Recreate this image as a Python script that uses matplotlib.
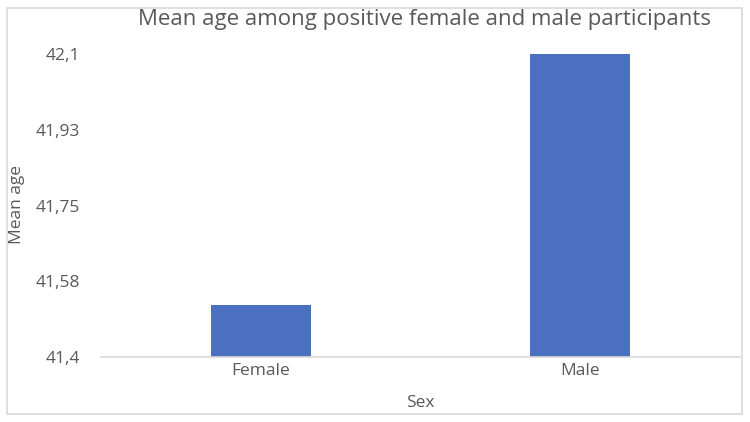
import numpy as np
import matplotlib.pyplot as plt
from matplotlib.patches import Rectangle

# data
categories = ['Female', 'Male']
mean_age = [41.52, 42.1]
tick_values = [41.4, 41.575, 41.75, 41.925, 42.1]
tick_labels = ['41,4', '41,58', '41,75', '41,93', '42,1']

plt.rcParams['font.family'] = ['Open Sans', 'DejaVu Sans']
text_col = '#595959'

fig = plt.figure(figsize=(7.5, 4.22), dpi=100)
ax = fig.add_axes([101 / 750, 1 - 357 / 422, (740 - 101) / 750, (357 - 54) / 422])

x = np.arange(len(categories))
ax.bar(x, mean_age, width=0.313, color='#4a70bf', bottom=0)
ax.set_xlim(-0.5, 1.5)
ax.set_ylim(41.4, 42.1)
ax.set_yticks(tick_values)
ax.set_yticklabels(tick_labels)
ax.set_xticks(x)
ax.set_xticklabels(categories)

for s in ['top', 'right', 'left']:
    ax.spines[s].set_visible(False)
ax.spines['bottom'].set_color('#d9d9d9')
ax.spines['bottom'].set_linewidth(1.2)
ax.tick_params(axis='both', length=0, labelsize=12.5, colors=text_col)
ax.tick_params(axis='y', pad=15)
ax.tick_params(axis='x', pad=4)

# axis titles placed where the reference has them
fig.text(17 / 750, 1 - 205 / 422, 'Mean age', rotation=90, ha='center', va='center',
         fontsize=12.5, color=text_col)
fig.text(420 / 750, 1 - 403 / 422, 'Sex', ha='center', va='center',
         fontsize=12.5, color=text_col)
fig.text(425 / 750, 1 - 20 / 422, 'Mean age among positive female and male participants',
         ha='center', va='center', fontsize=16, color=text_col)

# light gray chart border
fig.patches.append(Rectangle((7 / 750, 8 / 422), 735 / 750, 406 / 422,
                             transform=fig.transFigure, fill=False,
                             edgecolor='#d9d9d9', linewidth=1.2))

fig.savefig('out.png', dpi=100)
